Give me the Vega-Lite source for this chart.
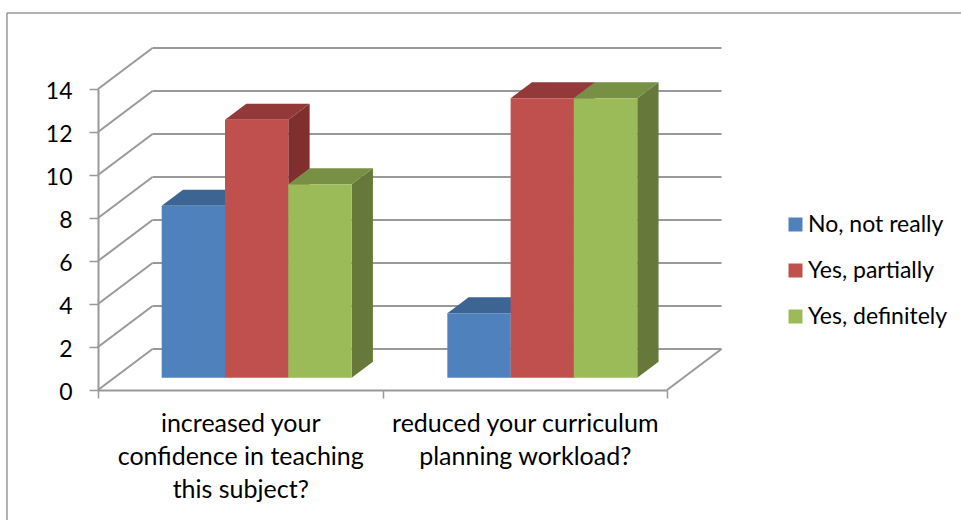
{"$schema":"https://vega.github.io/schema/vega-lite/v6.json","width":569,"height":301,"autosize":{"type":"none"},"padding":{"left":98,"top":89,"right":294,"bottom":130},"background":"white","config":{"view":{"stroke":null},"font":"Lato"},
"data":{"values":[
{"question":"increased your confidence in teaching this subject?","answer":"No, not really","count":8},
{"question":"increased your confidence in teaching this subject?","answer":"Yes, partially","count":12},
{"question":"increased your confidence in teaching this subject?","answer":"Yes, definitely","count":9},
{"question":"reduced your curriculum planning workload?","answer":"No, not really","count":3},
{"question":"reduced your curriculum planning workload?","answer":"Yes, partially","count":13},
{"question":"reduced your curriculum planning workload?","answer":"Yes, definitely","count":13}]},
"transform":[
{"calculate":"datum.question[0]=='i'?0:1","as":"g"},
{"calculate":"indexof(['No, not really','Yes, partially','Yes, definitely'],datum.answer)","as":"s"},
{"calculate":"0.2239+datum.g*1.004+datum.s*0.2225","as":"xl"},
{"calculate":"datum.xl+0.2225","as":"xr"},
{"calculate":"datum.question+datum.answer","as":"id"},
{"calculate":"[0,1]","as":"d"},
{"flatten":["d"]},
{"calculate":"0.57+datum.d*0.744","as":"b"},
{"calculate":"datum.count+datum.b","as":"t"},
{"calculate":"datum.xl+datum.d*0.0749","as":"tl"},
{"calculate":"datum.xr+datum.d*0.0749","as":"tr"}],
"layer":[
{"data":{"values":[{"v":0},{"v":2},{"v":4},{"v":6},{"v":8},{"v":10},{"v":12},{"v":14}]},
"transform":[{"calculate":"datum.v+1.907","as":"yb"}],
"mark":{"type":"rule","color":"#999999","strokeWidth":2},
"encoding":{
"x":{"datum":0.1916,"type":"quantitative","title":null,"scale":{"domain":[0,2],"nice":false,"zero":false},
"axis":{"title":null,"grid":false,"values":[0,0.5,1,1.5,2],"domainColor":"#999999","domainWidth":2,"tickColor":"#999999","tickWidth":1.5,"tickSize":8,"tickOpacity":{"condition":{"test":"datum.value==0.5||datum.value==1.5","value":0},"value":1},"labelFont":"Lato","labelFontSize":25,"labelColor":"#000000","labelPadding":13,"labelLineHeight":33,"labelOverlap":false,"labelBound":false,"labelFlush":false,"labelLimit":0,"labelAngle":0,"labelBaseline":"top",
"labelExpr":"datum.value==0.5?['increased your','confidence in teaching','this subject?']:datum.value==1.5?['reduced your curriculum','planning workload?']:''"}},
"x2":{"datum":2.1916},
"y":{"field":"yb","type":"quantitative","title":null,"scale":{"domain":[0,14],"nice":false,"zero":false},
"axis":{"title":null,"grid":false,"values":[0,2,4,6,8,10,12,14],"domainColor":"#999999","domainWidth":2,"tickColor":"#999999","tickWidth":1.5,"tickSize":9,"labelFont":"Lato","labelFontSize":23,"labelColor":"#000000","labelPadding":17,"labelOffset":2,"labelOverlap":false,"labelBound":false,"labelFlush":false}}}},
{"data":{"values":[{"v":0},{"v":2},{"v":4},{"v":6},{"v":8},{"v":10},{"v":12},{"v":14}]},
"transform":[{"calculate":"datum.v+1.907","as":"yb"}],
"mark":{"type":"rule","color":"#999999","strokeWidth":2},
"encoding":{"x":{"datum":0,"type":"quantitative","title":null},"x2":{"datum":0.1916},"y":{"field":"v","type":"quantitative","title":null},"y2":{"field":"yb"}}},
{"data":{"values":[{"v":0}]},
"transform":[{"calculate":"datum.v+1.907","as":"yb"}],
"mark":{"type":"rule","color":"#999999","strokeWidth":2},
"encoding":{"x":{"datum":2,"type":"quantitative","title":null},"x2":{"datum":2.1916},"y":{"field":"v","type":"quantitative","title":null},"y2":{"field":"yb"}}},
{"data":{"values":[{"a":-0.32,"b":17.53,"c":3.04,"e":17.53},{"a":-0.32,"b":17.53,"c":-0.32,"e":-6.1}]},
"mark":{"type":"rule","color":"#979797","strokeWidth":1.5},
"encoding":{"x":{"field":"a","type":"quantitative","title":null},"x2":{"field":"c"},"y":{"field":"b","type":"quantitative","title":null},"y2":{"field":"e"}}},
{"mark":{"type":"area","orient":"vertical"},
"encoding":{"x":{"field":"tr","type":"quantitative","title":null},"y":{"field":"t","type":"quantitative","stack":null,"title":null},"y2":{"field":"b"},"detail":{"field":"id"},
"color":{"field":"answer","type":"nominal","legend":null,"scale":{"domain":["No, not really","Yes, partially","Yes, definitely"],"range":["#365B87","#7E2F2E","#66793A"]}}}},
{"mark":{"type":"area","orient":"horizontal"},
"encoding":{"y":{"field":"t","type":"quantitative","stack":null,"title":null},"x":{"field":"tl","type":"quantitative","title":null},"x2":{"field":"tr"},"detail":{"field":"id"},
"color":{"field":"answer","type":"nominal","legend":null,"scale":{"domain":["No, not really","Yes, partially","Yes, definitely"],"range":["#3D6594","#93393A","#789044"]}}}},
{"transform":[{"filter":"datum.d==0"}],"mark":{"type":"rect"},
"encoding":{"x":{"field":"xl","type":"quantitative","title":null},"x2":{"field":"xr"},"y":{"field":"t","type":"quantitative","title":null},"y2":{"field":"b"},
"color":{"field":"answer","type":"nominal","sort":["No, not really","Yes, partially","Yes, definitely"],"scale":{"domain":["No, not really","Yes, partially","Yes, definitely"],"range":["#4F81BD","#C0504D","#9BBB59"]},
"legend":{"title":null,"orient":"none","legendX":686,"legendY":124,"symbolType":"square","symbolSize":196,"symbolStrokeWidth":0,"symbolOpacity":1,"labelFont":"Lato","labelFontSize":23,"labelColor":"#000000","labelLimit":0,"rowPadding":22,"labelOffset":1,"padding":0}}}}
],
"resolve":{"scale":{"color":"independent"}}}
